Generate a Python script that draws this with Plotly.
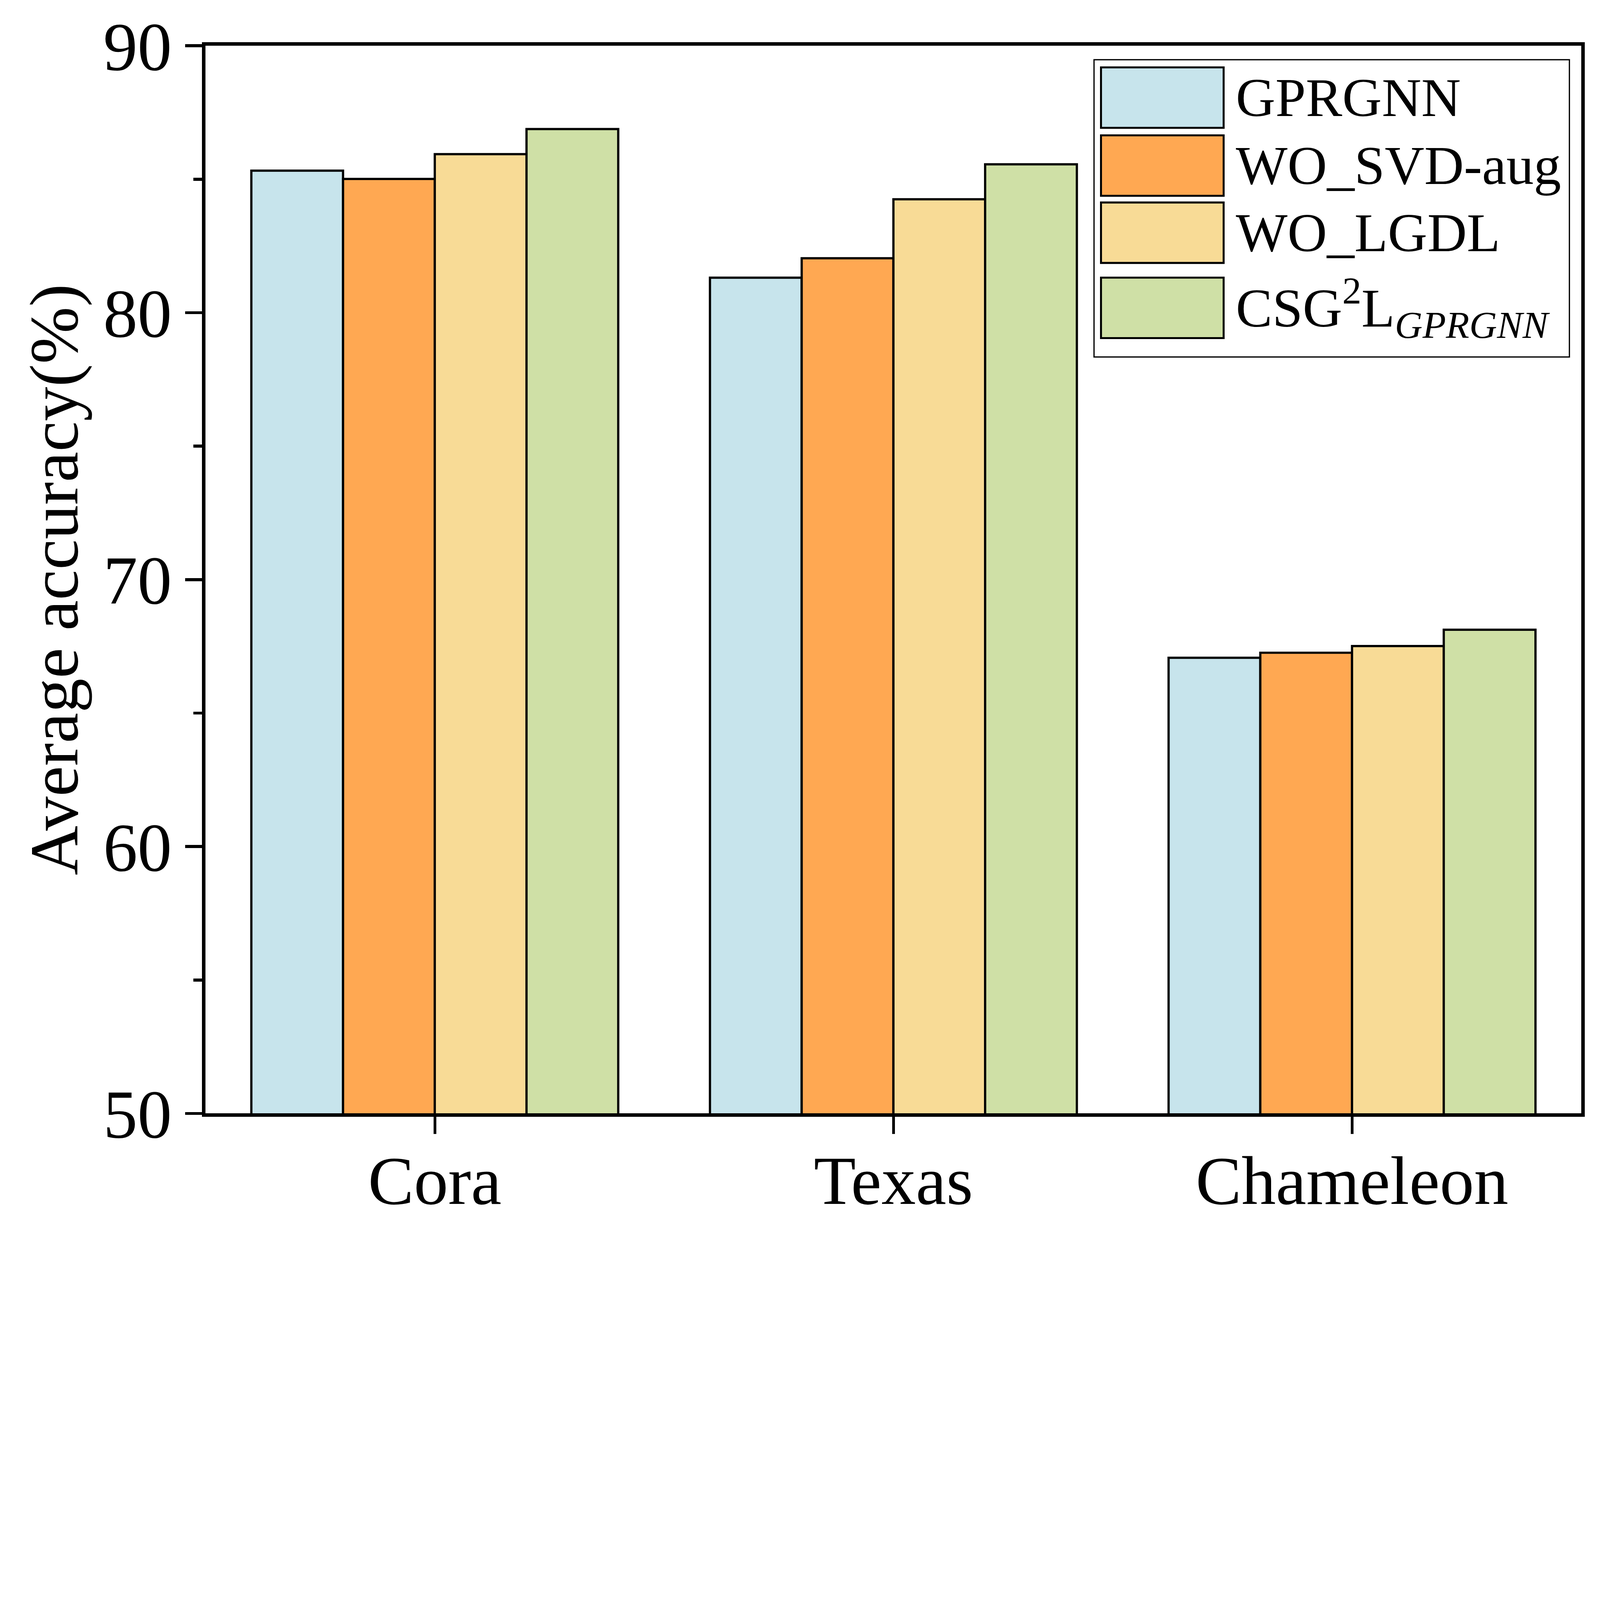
import plotly.graph_objects as go

# ---------------- data ----------------
categories = ["Cora", "Texas", "Chameleon"]
series_names = ["GPRGNN", "WO_SVD-aug", "WO_LGDL", "CSG<sup>2</sup>L<sub><i>GPRGNN</i></sub>"]
gprgnn = [85.32, 81.31, 67.07]
wo_svd_aug = [85.01, 82.04, 67.26]
wo_lgdl = [85.94, 84.25, 67.51]
csg2l = [86.88, 85.56, 68.12]
y_tick_vals = [50, 60, 70, 80, 90]

# ---------------- style ----------------
colors = ["#C7E4EC", "#FFA852", "#F8DB96", "#CFE0A6"]
FONT = "Liberation Serif"
W, H = 6432, 4923
L, R, T, B = 826, 75, 184, 447
PW, PH = W - L - R, H - T - B


def px_x(px):
    return (px - L) / PW


def px_y(py):
    return (H - B - py) / PH


series_values = [gprgnn, wo_svd_aug, wo_lgdl, csg2l]

fig = go.Figure()
for name, vals, col in zip(series_names, series_values, colors):
    fig.add_trace(go.Bar(
        x=categories, y=vals, name=name,
        marker=dict(color=col, line=dict(color="black", width=9)),
        showlegend=False,
    ))

fig.update_layout(
    width=W, height=H,
    margin=dict(l=L, r=R, t=T, b=B, pad=0),
    plot_bgcolor="white", paper_bgcolor="white",
    barmode="group", bargap=0.2, bargroupgap=0,
    font=dict(family=FONT, color="black"),
)

fig.update_xaxes(
    range=[-0.5, 2.5], showgrid=False, zeroline=False,
    showline=True, linewidth=14, linecolor="black", mirror=True,
    ticks="outside", ticklen=68, tickwidth=11, tickcolor="black",
    tickfont=dict(family=FONT, size=276, color="black"),
    ticklabelstandoff=-50,
)
fig.update_yaxes(
    range=[50, 90], tickvals=y_tick_vals, showgrid=False, zeroline=False,
    showline=True, linewidth=14, linecolor="black", mirror=True,
    ticks="outside", ticklen=68, tickwidth=12, tickcolor="black",
    tickfont=dict(family=FONT, size=276, color="black"),
    ticklabelstandoff=-2,
    minor=dict(ticks="outside", ticklen=34, tickwidth=12, tickcolor="black", dtick=5, showgrid=False),
    title=dict(text="Average accuracy(%)", font=dict(family=FONT, size=276, color="black"), standoff=14),
)

# ---------------- legend (drawn manually to match large swatches) ----------------
box = (4398, 240, 6309, 1435)
fig.add_shape(type="rect", xref="paper", yref="paper",
              x0=px_x(box[0]), x1=px_x(box[2]), y0=px_y(box[3]), y1=px_y(box[1]),
              line=dict(color="black", width=5), fillcolor="white", layer="above")
row_tops = [271, 544, 814, 1116]
row_h = 243
sw_x0, sw_x1 = 4426, 4919
text_x = 4966
for name, col, top in zip(series_names, colors, row_tops):
    fig.add_shape(type="rect", xref="paper", yref="paper",
                  x0=px_x(sw_x0), x1=px_x(sw_x1), y0=px_y(top + row_h), y1=px_y(top),
                  line=dict(color="black", width=8), fillcolor=col, layer="above")
    fig.add_annotation(xref="paper", yref="paper", x=px_x(text_x), y=px_y(top + row_h / 2),
                       xanchor="left", yanchor="middle", showarrow=False, text=name,
                       font=dict(family=FONT, size=220, color="black"))

# The sandbox browser window may be smaller than the figure: scale the whole
# (vector) figure uniformly so it fits, keeping the reference proportions.
post = """
var d = document.getElementById('{plot_id}');
document.documentElement.style.margin = '0';
document.documentElement.style.overflow = 'hidden';
document.body.style.margin = '0';
document.body.style.overflow = 'hidden';
var s = Math.min(1, window.innerWidth / %d, window.innerHeight / %d);
d.style.transformOrigin = '0 0';
d.style.transform = 'scale(' + s + ')';
""" % (W, H)
fig.write_html("out.html", post_script=post, config={"displayModeBar": False})
